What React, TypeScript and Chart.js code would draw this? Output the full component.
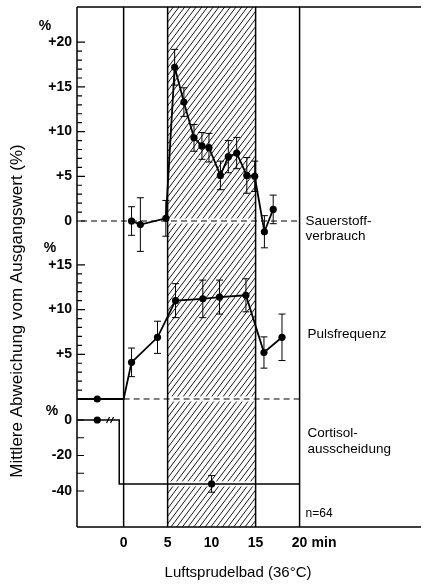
import React, { useEffect, useRef } from 'react';
import { Chart, registerables } from 'chart.js';

Chart.register(...registerables);

// ---- Data (minutes, % deviation from baseline) ----
const o2Minutes = [0.9, 1.9, 4.8, 5.8, 6.85, 8.0, 8.9, 9.7, 11.0, 11.9, 12.85, 14.0, 14.9, 16.0, 17.0];
const o2Values = [0.0, -0.4, 0.3, 17.2, 13.3, 9.3, 8.4, 8.2, 5.1, 7.2, 7.6, 5.1, 5.0, -1.2, 1.3];
const o2Errors = [1.6, 3.0, 2.0, 2.0, 1.6, 1.5, 1.5, 1.6, 1.6, 1.8, 1.75, 2.0, 1.7, 1.8, 1.6];

const pulseBaseMinutes = [-5.3, -3.0, 0.0];
const pulseBaseValues = [0, 0, 0];
const pulseMinutes = [0.9, 3.85, 5.9, 9.0, 10.9, 13.9, 15.95, 18.0];
const pulseValues = [4.1, 6.9, 11.0, 11.2, 11.4, 11.6, 5.2, 6.9];
const pulseErrors = [1.6, 1.8, 1.9, 2.1, 1.9, 1.85, 1.75, 2.6];

const cortisolBaseMinutes = [-5.3, -3.0, -0.5];
const cortisolBaseValues = [0, 0, 0];
const cortisolBathMinutes = [-0.5, 20];
const cortisolBathValue = -36;
const cortisolPointMinutes = [10];
const cortisolPointValues = [-36];
const cortisolPointErrors = [4.7];

const xTicks = [0, 5, 10, 15, 20];
const bathStart = 5;
const bathEnd = 15;
const o2TickValues = [0, 1, 2, 3, 4, 5, 6, 7, 8, 9, 10, 11, 12, 13, 14, 15, 16, 17, 18, 19, 20];
const o2TickLabels = ['0', '+5', '+10', '+15', '+20'];
const pulseTickValues = [0, 1, 2, 3, 4, 5, 6, 7, 8, 9, 10, 11, 12, 13, 14, 15];
const pulseTickLabels = ['', '+5', '+10', '+15'];
const cortisolTickValues = [0, -10, -20, -30, -40];
const cortisolTickLabels = ['0', '', '-20', '', '-40'];

const FONT = '"Liberation Sans", Arial, sans-serif';

const decor = {
  id: 'decor',
  beforeDatasetsDraw(chart: any) {
    const { ctx, chartArea: a, scales } = chart;
    const x = scales.x, y1 = scales.y, y2 = scales.y2, y3 = scales.y3;
    const hx0 = x.getPixelForValue(bathStart);
    const hx1 = x.getPixelForValue(bathEnd);

    // hatch
    ctx.save();
    ctx.beginPath();
    ctx.rect(hx0, a.top, hx1 - hx0, a.bottom - a.top);
    ctx.clip();
    ctx.strokeStyle = '#1a1a1a';
    ctx.lineWidth = 1;
    const H = a.bottom - a.top;
    const slant = H * 0.75;
    ctx.beginPath();
    for (let sx = hx0 - slant; sx < hx1 + 6; sx += 5.7) {
      ctx.moveTo(sx, a.bottom);
      ctx.lineTo(sx + slant, a.top);
    }
    ctx.stroke();
    ctx.restore();

    ctx.save();
    // white bands in hatch
    ctx.fillStyle = '#fff';
    [y1.getPixelForValue(0), y2.getPixelForValue(0), y3.getPixelForValue(cortisolBathValue)].forEach((py: number) => {
      ctx.fillRect(hx0, py - 2.5, hx1 - hx0, 5);
    });

    // frame
    ctx.strokeStyle = '#000';
    ctx.lineWidth = 1.5;
    ctx.beginPath();
    ctx.moveTo(a.left, a.top); ctx.lineTo(a.right, a.top);
    ctx.moveTo(a.left, a.bottom); ctx.lineTo(a.right, a.bottom);
    ctx.moveTo(a.left, a.top); ctx.lineTo(a.left, a.bottom);
    [0, 20, bathStart, bathEnd].forEach((m) => {
      const px = x.getPixelForValue(m);
      ctx.moveTo(px, a.top); ctx.lineTo(px, a.bottom);
    });
    ctx.stroke();

    // dashed zero lines
    ctx.lineWidth = 1;
    ctx.setLineDash([6, 4]);
    ctx.beginPath();
    ctx.moveTo(a.left + 4, y1.getPixelForValue(0));
    ctx.lineTo(x.getPixelForValue(20), y1.getPixelForValue(0));
    ctx.moveTo(x.getPixelForValue(0), y2.getPixelForValue(0));
    ctx.lineTo(x.getPixelForValue(20), y2.getPixelForValue(0));
    ctx.stroke();
    ctx.setLineDash([]);

    // y ticks
    ctx.lineWidth = 1.2;
    ctx.beginPath();
    o2TickValues.forEach((v) => {
      const py = y1.getPixelForValue(v);
      ctx.moveTo(a.left, py); ctx.lineTo(a.left + (v % 5 === 0 ? 8 : 5), py);
    });
    pulseTickValues.forEach((v) => {
      const py = y2.getPixelForValue(v);
      ctx.moveTo(a.left, py); ctx.lineTo(a.left + (v % 5 === 0 ? 8 : 5), py);
    });
    cortisolTickValues.forEach((v) => {
      const py = y3.getPixelForValue(v);
      ctx.moveTo(a.left, py); ctx.lineTo(a.left + 7, py);
    });
    ctx.stroke();

    // y tick labels
    ctx.fillStyle = '#000';
    ctx.font = 'bold 14px ' + FONT;
    ctx.textAlign = 'right';
    ctx.textBaseline = 'middle';
    const lx = a.left - 5;
    o2TickLabels.forEach((t, i) => ctx.fillText(t, lx, y1.getPixelForValue(i * 5)));
    pulseTickLabels.forEach((t, i) => { if (t) ctx.fillText(t, lx, y2.getPixelForValue(i * 5)); });
    cortisolTickLabels.forEach((t, i) => { if (t) ctx.fillText(t, lx, y3.getPixelForValue(cortisolTickValues[i])); });
    ctx.textAlign = 'center';
    ctx.fillText('%', a.left - 32, y1.getPixelForValue(20) - 16);
    ctx.fillText('%', a.left - 27, y2.getPixelForValue(15) - 17);
    ctx.fillText('%', a.left - 25, y3.getPixelForValue(0) - 9);

    // right labels
    ctx.textAlign = 'left';
    ctx.font = '13.5px ' + FONT;
    const rx = x.getPixelForValue(20) + 6;
    ctx.fillText('Sauerstoff-', rx, y1.getPixelForValue(0));
    ctx.fillText('verbrauch', rx, y1.getPixelForValue(0) + 15);
    ctx.fillText('Pulsfrequenz', rx + 2, y2.getPixelForValue(0) - 65);
    ctx.fillText('Cortisol-', rx + 2, y3.getPixelForValue(0) + 13);
    ctx.fillText('ausscheidung', rx + 2, y3.getPixelForValue(0) + 29);
    ctx.font = '12px ' + FONT;
    ctx.fillText('n=64', rx, a.bottom - 13);

    // x "min"
    ctx.font = 'bold 14px ' + FONT;
    ctx.fillText('min', x.getPixelForValue(20) + 12, a.bottom + 16);

    // axis titles
    ctx.font = '15px ' + FONT;
    ctx.textAlign = 'center';
    ctx.fillText('Luftsprudelbad (36°C)', 238, a.bottom + 46);
    ctx.save();
    ctx.translate(17, 311);
    ctx.rotate(-Math.PI / 2);
    ctx.font = '17px ' + FONT;
    ctx.fillText('Mittlere Abweichung vom Ausgangswert (%)', 0, 0);
    ctx.restore();
    ctx.restore();
  },
  afterDatasetsDraw(chart: any) {
    const { ctx, scales } = chart;
    const x = scales.x;
    ctx.save();
    ctx.strokeStyle = '#000';
    ctx.lineWidth = 1;
    const bars = (ms: number[], vs: number[], es: number[], sc: any) => {
      ms.forEach((m, i) => {
        const px = x.getPixelForValue(m);
        const t = sc.getPixelForValue(vs[i] + es[i]);
        const b = sc.getPixelForValue(vs[i] - es[i]);
        ctx.beginPath();
        ctx.moveTo(px, t); ctx.lineTo(px, b);
        ctx.moveTo(px - 3.5, t); ctx.lineTo(px + 3.5, t);
        ctx.moveTo(px - 3.5, b); ctx.lineTo(px + 3.5, b);
        ctx.stroke();
      });
    };
    bars(o2Minutes, o2Values, o2Errors, scales.y);
    bars(pulseMinutes, pulseValues, pulseErrors, scales.y2);
    bars(cortisolPointMinutes, cortisolPointValues, cortisolPointErrors, scales.y3);

    // axis break mark on cortisol baseline
    const bx = x.getPixelForValue(-1.6);
    const by = scales.y3.getPixelForValue(0);
    ctx.lineWidth = 1.2;
    ctx.beginPath();
    ctx.moveTo(bx - 3, by + 3); ctx.lineTo(bx, by - 3);
    ctx.moveTo(bx + 1, by + 3); ctx.lineTo(bx + 4, by - 3);
    ctx.stroke();
    ctx.restore();
  },
};

export default function App() {
  const ref = useRef<HTMLCanvasElement>(null);
  useEffect(() => {
    if (!ref.current) return;
    const pt = (ms: number[], vs: number[]) => ms.map((m, i) => ({ x: m, y: vs[i] }));
    const base = { borderColor: '#000', backgroundColor: '#000', pointBackgroundColor: '#000', pointBorderWidth: 0, borderWidth: 1.8, tension: 0 };
    const chart = new Chart(ref.current, {
      type: 'line',
      data: {
        datasets: [
          { ...base, label: 'Sauerstoffverbrauch', data: pt(o2Minutes, o2Values), yAxisID: 'y', pointRadius: 3.6 },
          {
            ...base, label: 'Pulsfrequenz', yAxisID: 'y2',
            data: [...pt(pulseBaseMinutes, pulseBaseValues), ...pt(pulseMinutes, pulseValues)],
            pointRadius: [0, 3.6, 0, ...pulseMinutes.map(() => 3.6)],
          },
          {
            ...base, label: 'Cortisolausscheidung', yAxisID: 'y3',
            data: [...pt(cortisolBaseMinutes, cortisolBaseValues), ...pt(cortisolBathMinutes, cortisolBathMinutes.map(() => cortisolBathValue))],
            pointRadius: [0, 3.6, 0, 0, 0], borderWidth: 1.5,
          },
          { ...base, label: 'Cortisol', yAxisID: 'y3', data: pt(cortisolPointMinutes, cortisolPointValues), showLine: false, pointRadius: 3.6 },
        ],
      },
      options: {
        responsive: false,
        animation: false,
        layout: { padding: { left: 77, top: 7, right: 0, bottom: 0 } },
        plugins: { legend: { display: false }, tooltip: { enabled: false } },
        scales: {
          x: {
            type: 'linear', min: -5.3, max: 33.8,
            grid: { display: false, drawTicks: false },
            border: { display: false },
            afterBuildTicks: (s: any) => { s.ticks = xTicks.map((v) => ({ value: v })); },
            afterFit: (s: any) => { s.height = 57; },
            ticks: { color: '#000', padding: 8, font: { family: FONT, size: 14, weight: 'bold' }, maxRotation: 0, autoSkip: false },
          },
          y: { type: 'linear', display: false, min: -34.23, max: 23.94 },
          y2: { type: 'linear', display: false, min: -14.32, max: 43.85 },
          y3: { type: 'linear', display: false, min: -60.28, max: 232.7 },
        },
      },
      plugins: [decor],
    } as any);
    return () => chart.destroy();
  }, []);
  return (
    <div style={{ position: 'absolute', left: 0, top: 0, width: 425, height: 584, background: '#fff' }}>
      <canvas ref={ref} width={425} height={584} style={{ width: 425, height: 584 }} />
    </div>
  );
}
